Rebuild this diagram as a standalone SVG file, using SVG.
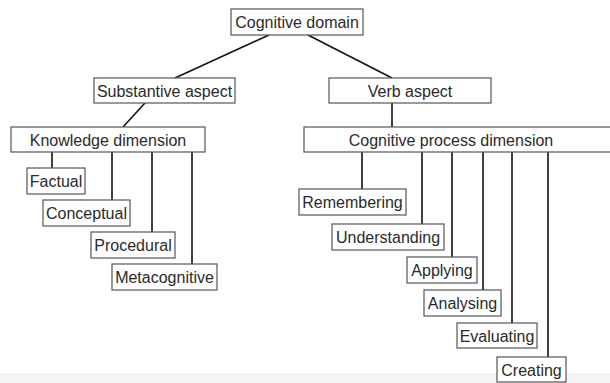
<svg xmlns="http://www.w3.org/2000/svg" width="610" height="383" viewBox="0 0 610 383">
<style>
.b{fill:#fff;stroke:#555;stroke-width:1.2}
.t{font-family:"Liberation Sans",Arial,sans-serif;font-size:16px;fill:#2a2a2a;text-anchor:middle}
.c line{stroke:#111;stroke-width:1.6}
</style>
<rect x="0" y="0" width="610" height="383" fill="#fff"/>
<rect x="0" y="373" width="610" height="10" fill="#f4f4f4"/>
<g class="c" id="connectors">
<line x1="269" y1="35" x2="175" y2="78"/>
<line x1="308" y1="35" x2="392" y2="78"/>
<line x1="145" y1="103" x2="123" y2="127"/>
<line x1="392" y1="103" x2="392" y2="127"/>
<line x1="52" y1="152" x2="52" y2="168"/>
<line x1="112" y1="152" x2="112" y2="200"/>
<line x1="152" y1="152" x2="152" y2="232"/>
<line x1="192" y1="152" x2="192" y2="264"/>
<line x1="362" y1="152" x2="362" y2="189"/>
<line x1="422" y1="152" x2="422" y2="224"/>
<line x1="452" y1="152" x2="452" y2="257"/>
<line x1="483" y1="152" x2="483" y2="290"/>
<line x1="512" y1="152" x2="512" y2="323"/>
<line x1="548" y1="152" x2="548" y2="357"/>
</g>
<g id="cognitive-domain"><rect class="b" x="231" y="9" width="132" height="26"/><text class="t" x="297" y="28">Cognitive domain</text></g>
<g id="substantive-aspect"><rect class="b" x="94" y="78" width="141" height="25"/><text class="t" x="164.5" y="97">Substantive aspect</text></g>
<g id="verb-aspect"><rect class="b" x="329" y="78" width="162" height="25"/><text class="t" x="410" y="97">Verb aspect</text></g>
<g id="knowledge-dimension"><rect class="b" x="11" y="127" width="194" height="25"/><text class="t" x="108" y="146">Knowledge dimension</text></g>
<g id="cognitive-process-dimension"><rect class="b" x="304" y="127" width="310" height="25"/><text class="t" x="451" y="146">Cognitive process dimension</text></g>
<g id="factual"><rect class="b" x="27" y="168" width="58" height="26"/><text class="t" x="56" y="187">Factual</text></g>
<g id="conceptual"><rect class="b" x="43" y="200" width="87" height="26"/><text class="t" x="86.5" y="219">Conceptual</text></g>
<g id="procedural"><rect class="b" x="91" y="232" width="84" height="26"/><text class="t" x="133" y="251">Procedural</text></g>
<g id="metacognitive"><rect class="b" x="112" y="264" width="105" height="26"/><text class="t" x="164.5" y="283">Metacognitive</text></g>
<g id="remembering"><rect class="b" x="299" y="189" width="107" height="26"/><text class="t" x="352.5" y="208">Remembering</text></g>
<g id="understanding"><rect class="b" x="332" y="224" width="112" height="26"/><text class="t" x="388" y="243">Understanding</text></g>
<g id="applying"><rect class="b" x="407" y="257" width="70" height="26"/><text class="t" x="442" y="276">Applying</text></g>
<g id="analysing"><rect class="b" x="424" y="290" width="77" height="26"/><text class="t" x="462.5" y="309">Analysing</text></g>
<g id="evaluating"><rect class="b" x="457" y="323" width="80" height="25"/><text class="t" x="497" y="342">Evaluating</text></g>
<g id="creating"><rect class="b" x="497" y="357" width="69" height="25"/><text class="t" x="531.5" y="376">Creating</text></g>
</svg>
